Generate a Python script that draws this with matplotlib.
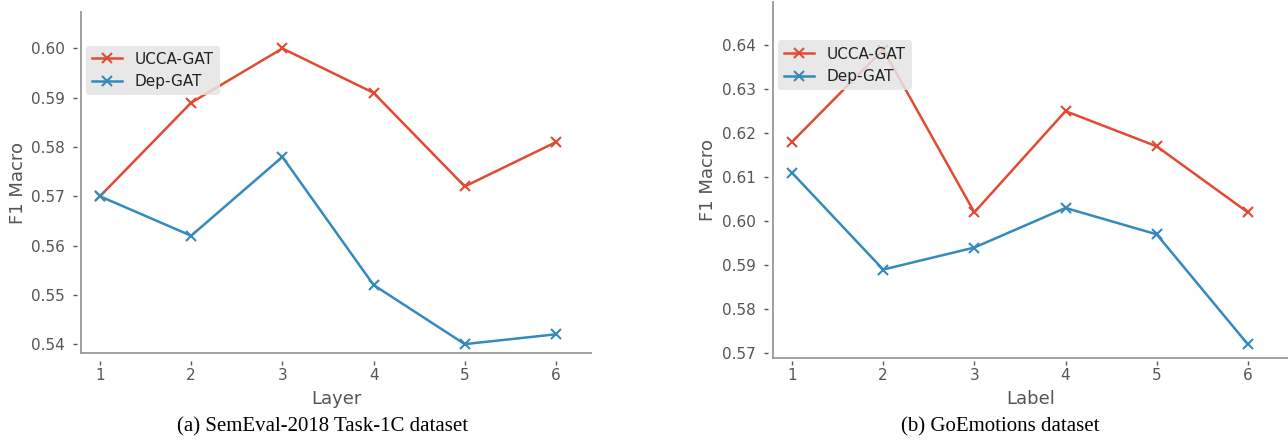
import matplotlib
matplotlib.use("Agg")
import matplotlib.pyplot as plt

# data
layers = [1, 2, 3, 4, 5, 6]
sem_ucca = [0.570, 0.589, 0.600, 0.591, 0.572, 0.581]
sem_dep = [0.570, 0.562, 0.578, 0.552, 0.540, 0.542]
go_ucca = [0.618, 0.639, 0.602, 0.625, 0.617, 0.602]
go_dep = [0.611, 0.589, 0.594, 0.603, 0.597, 0.572]

sem_yticks = [0.54, 0.55, 0.56, 0.57, 0.58, 0.59, 0.60]
go_yticks = [0.57, 0.58, 0.59, 0.60, 0.61, 0.62, 0.63, 0.64]

red = '#E24A33'
blue = '#348ABD'
gray = '#555555'
spine_col = '#999999'

fig = plt.figure(figsize=(12.88, 4.42), dpi=100)
px = 72 / 100.0  # one pixel in points

def draw(ax, ucca, dep, xlabel, yticks, ylim, xlim, off_left, off_bottom, legend_y):
    ax.plot(layers, ucca, color=red, marker='x', markersize=7.5, markeredgewidth=1.5,
            linewidth=1.8, label='UCCA-GAT')
    ax.plot(layers, dep, color=blue, marker='x', markersize=7.5, markeredgewidth=1.5,
            linewidth=1.8, label='Dep-GAT')
    ax.set_xlim(*xlim)
    ax.set_ylim(*ylim)
    ax.set_xticks(layers)
    ax.set_yticks(yticks)
    ax.set_yticklabels(['%.2f' % v for v in yticks])
    # ticks sit a little away from the drawn axis lines
    for s in ['top', 'right', 'left', 'bottom']:
        ax.spines[s].set_visible(False)
    ax.spines['left'].set_position(('outward', off_left * px))
    ax.spines['bottom'].set_position(('outward', off_bottom * px))
    ax.axvline(xlim[0], color=spine_col, linewidth=1.3, clip_on=False)
    ax.axhline(ylim[0], color=spine_col, linewidth=1.3, clip_on=False)
    ax.tick_params(axis='both', colors=gray, labelsize=11, length=4 * px, width=1,
                   direction='out')
    ax.tick_params(axis='x', pad=2)
    ax.tick_params(axis='y', pad=6)
    ax.set_xlabel(xlabel, color=gray, fontsize=13, labelpad=5)
    ax.set_ylabel('F1 Macro', color=gray, fontsize=13, labelpad=3)
    leg = ax.legend(loc='upper left', bbox_to_anchor=(0.0, legend_y), fontsize=11,
                    frameon=True, facecolor='#E5E5E5', edgecolor='none',
                    framealpha=0.85, borderaxespad=0.3, handlelength=2.0)
    for t in leg.get_texts():
        t.set_color('#222222')

ax1 = fig.add_axes([81/1288, 1-353/442, (591-81)/1288, (353-12)/442])
draw(ax1, sem_ucca, sem_dep, 'Layer', sem_yticks, (0.5382, 0.6074), (0.792, 6.384),
     4, 8, 0.915)

ax2 = fig.add_axes([773/1288, 1-358/442, (1288-773)/1288, (358-2)/442])
draw(ax2, go_ucca, go_dep, 'Label', go_yticks, (0.5689, 0.6498), (0.792, 6.44),
     5, 3, 0.905)

fig.text(323/1288, 1-427/442, '(a) SemEval-2018 Task-1C dataset', ha='center', va='center',
         family='Liberation Serif', fontsize=15)
fig.text(1000/1288, 1-427/442, '(b) GoEmotions dataset', ha='center', va='center',
         family='Liberation Serif', fontsize=15)

fig.savefig('out.png', dpi=100)
